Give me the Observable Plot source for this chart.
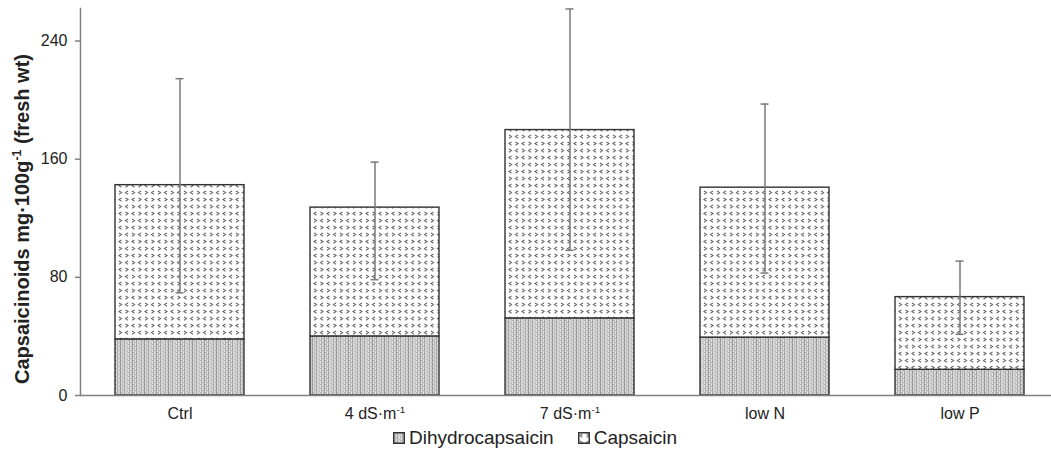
<!DOCTYPE html>
<html><head><meta charset="utf-8">
<script src="https://cdn.jsdelivr.net/npm/d3@7"></script>
<script src="https://cdn.jsdelivr.net/npm/@observablehq/plot@0.6"></script>
<style>
body{margin:0;background:#fff;font-family:"Liberation Sans",Arial,sans-serif;}
#wrap{position:relative;width:1051px;height:460px;overflow:hidden;}
#legend{position:absolute;top:427px;left:393px;display:flex;align-items:center;font-size:19px;color:#222;white-space:nowrap;}
#legend .item{display:flex;align-items:center;margin-right:24px;}
#legend svg{margin-right:4px;}
</style></head><body><div id="wrap"><div id="chart"></div><div id="legend"></div></div>
<script>
const categories = ["Ctrl", "4 dS·m⁻¹", "7 dS·m⁻¹", "low N", "low P"];
const dihydrocapsaicin = [38.0, 40.0, 52.2, 39.2, 17.4];
const capsaicin = [104.4, 87.2, 127.5, 101.5, 49.2];
const errorLow = [69.5, 78.4, 98.3, 82.9, 41.4];
const errorHigh = [214.5, 158.0, 261.7, 197.3, 91.0];
const yTicks = [0, 80, 160, 240];
const seriesNames = ["Dihydrocapsaicin", "Capsaicin"];
const yLabel = "Capsaicinoids mg·100g⁻¹ (fresh wt)";

const rows = categories.map((c, i) => ({
  cat: c,
  d: dihydrocapsaicin[i],
  total: dihydrocapsaicin[i] + capsaicin[i],
  lo: errorLow[i],
  hi: errorHigh[i]
}));

const capInset = 60.5;
const chart = Plot.plot({
  width: 1051, height: 430,
  marginLeft: 80, marginRight: -8, marginTop: 8, marginBottom: 35,
  style: {fontFamily: "'Liberation Sans', Arial, sans-serif", fontSize: "16px", color: "#222", background: "#fff", overflow: "visible"},
  x: {domain: categories, paddingInner: 0.336, paddingOuter: 0.168},
  y: {domain: [0, 262]},
  marks: [
    Plot.barY(rows, {x: "cat", y1: 0, y2: "d", fill: "url(#pat-dihydro)", stroke: "#333", strokeWidth: 1.4}),
    Plot.barY(rows, {x: "cat", y1: "d", y2: "total", fill: "url(#pat-caps)", stroke: "#333", strokeWidth: 1.4}),
    Plot.ruleX(rows, {x: "cat", y1: "lo", y2: "hi", stroke: "#7a7a7a", strokeWidth: 1.5}),
    Plot.tickY(rows, {x: "cat", y: "hi", stroke: "#7a7a7a", strokeWidth: 1.5, insetLeft: capInset, insetRight: capInset}),
    Plot.tickY(rows, {x: "cat", y: "lo", stroke: "#7a7a7a", strokeWidth: 1.5, insetLeft: capInset, insetRight: capInset}),
    Plot.ruleY([0], {stroke: "#808080", strokeWidth: 1.5}),
    Plot.frame({anchor: "left", stroke: "#808080", strokeWidth: 1.5}),
    Plot.axisY({ticks: yTicks, tickSize: 5, tickPadding: 8, label: null, stroke: "#808080", strokeWidth: 1.5, fontSize: 16}),
    Plot.axisX({tickSize: 0, tickPadding: 12, label: null, fontSize: 16}),
    Plot.text([yLabel], {text: d => d, frameAnchor: "left", textAnchor: "middle", rotate: -90, dx: -58, dy: 17, fontWeight: "bold", fontSize: 20, fill: "#222"})
  ]
});
document.getElementById("chart").append(chart);

// patterns
const svg = d3.select(chart);
const defs = svg.insert("defs", ":first-child");
const pd = defs.append("pattern").attr("id", "pat-dihydro").attr("patternUnits", "userSpaceOnUse").attr("width", 12).attr("height", 4);
pd.append("rect").attr("width", 12).attr("height", 4).attr("fill", "#e0e0e0");
[[0, "#9a9a9a"], [2, "#bcbcbc"], [4, "#a6a6a6"], [7, "#c4c4c4"], [9, "#acacac"], [11, "#cacaca"]].forEach(([x, c]) =>
  pd.append("rect").attr("x", x).attr("y", 0).attr("width", 1).attr("height", 4).attr("fill", c));
[[1, 0], [3, 2], [5, 1], [6, 3], [8, 0], [10, 2]].forEach(([x, y]) =>
  pd.append("rect").attr("x", x).attr("y", y).attr("width", 1).attr("height", 1).attr("fill", "#b0b0b0"));

const pc = defs.append("pattern").attr("id", "pat-caps").attr("patternUnits", "userSpaceOnUse").attr("width", 13).attr("height", 14);
pc.append("rect").attr("width", 13).attr("height", 14).attr("fill", "#fff");
const lt = (x, y) => `M${x + 2.5},${y}L${x},${y + 1.6}L${x + 2.5},${y + 3.2}`;
const gt = (x, y) => `M${x},${y}L${x + 2.5},${y + 1.6}L${x},${y + 3.2}`;
pc.append("path").attr("d", lt(2, 2) + gt(8.5, 2) + gt(2, 9) + lt(8.5, 9))
  .attr("fill", "none").attr("stroke", "#666").attr("stroke-width", 1.1);

// superscripts
function supify(el) {
  const s = el.textContent;
  if (!s.includes("⁻¹")) return;
  const fs = parseFloat(getComputedStyle(el).fontSize) || 16;
  const [a, b] = s.split("⁻¹");
  el.textContent = "";
  const ns = "http://www.w3.org/2000/svg";
  const t1 = document.createElementNS(ns, "tspan"); t1.textContent = a; el.append(t1);
  const t2 = document.createElementNS(ns, "tspan"); t2.textContent = "-1";
  t2.setAttribute("font-size", (fs * 0.62).toFixed(1) + "px"); t2.setAttribute("dy", (-fs * 0.38).toFixed(1)); el.append(t2);
  if (b) { const t3 = document.createElementNS(ns, "tspan"); t3.textContent = b; t3.setAttribute("dy", (fs * 0.38).toFixed(1)); el.append(t3); }
}
chart.querySelectorAll("text").forEach(supify);

// legend
const patIds = ["pat-dihydro", "pat-caps"];
const leg = d3.select("#legend");
seriesNames.forEach((n, i) => {
  const it = leg.append("div").attr("class", "item");
  const s = it.append("svg").attr("width", 12).attr("height", 12);
  s.append("rect").attr("x", 0.75).attr("y", 0.75).attr("width", 10.5).attr("height", 10.5)
    .attr("fill", `url(#${patIds[i]})`).attr("stroke", "#333").attr("stroke-width", 1.5);
  it.append("span").text(n);
});
</script></body></html>
